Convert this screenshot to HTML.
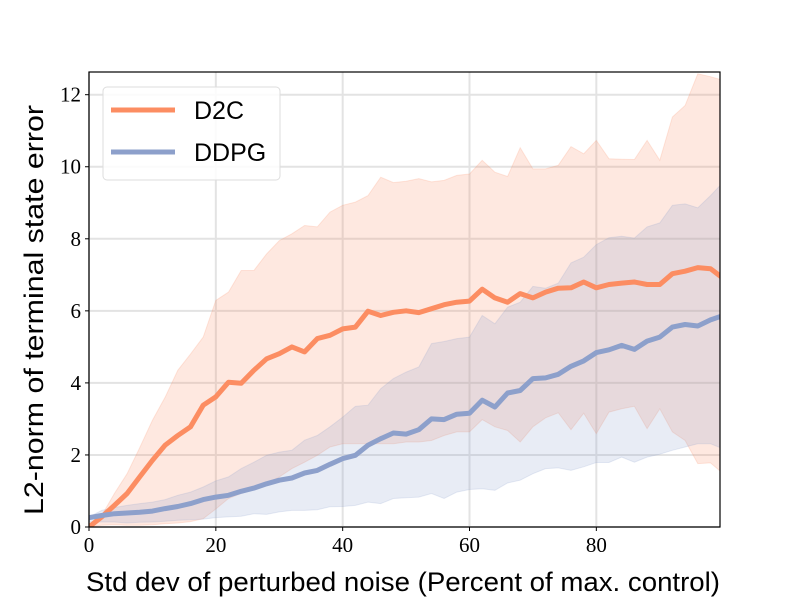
<!DOCTYPE html>
<html><head><meta charset="utf-8"><style>
body{margin:0;background:#fff}
svg text{font-family:"Liberation Sans","DejaVu Sans",sans-serif}
.tk{font-family:"Liberation Serif",serif;font-size:21px}
</style></head><body>
<svg id="chart" width="800" height="600" viewBox="0 0 800 600" xmlns="http://www.w3.org/2000/svg">
<rect width="800" height="600" fill="#fff"/>
<g id="grid"></g>
<g id="bands"></g>
<g id="lines"></g>
<rect x="89" y="72" width="631" height="455" fill="none" stroke="#000" stroke-width="1.2"/>
<g id="ticks"></g>
<text x="403" y="591" font-size="27" text-anchor="middle" textLength="634" lengthAdjust="spacingAndGlyphs">Std dev of perturbed noise (Percent of max. control)</text>
<text transform="translate(43,310) rotate(-90)" font-size="27" text-anchor="middle" textLength="410" lengthAdjust="spacingAndGlyphs">L2-norm of terminal state error</text>
<g>
<rect x="103" y="87" width="177" height="93" rx="4" fill="#fff" fill-opacity="0.85" stroke="#ddd"/>
<line x1="111" y1="110" x2="175" y2="110" stroke="#fc8d62" stroke-width="5"/>
<text x="194" y="119" font-size="25">D2C</text>
<line x1="111" y1="152" x2="175" y2="152" stroke="#8da0cb" stroke-width="5"/>
<text x="194" y="161" font-size="25">DDPG</text>
</g>
</svg>
<script>
const xTicks=[0,20,40,60,80];
const yTicks=[0,2,4,6,8,10,12];
const d2cMean=[0,0.28,0.6,0.93,1.39,1.85,2.27,2.54,2.78,3.38,3.61,4.02,3.99,4.35,4.67,4.81,5.0,4.86,5.23,5.32,5.5,5.55,5.99,5.87,5.96,6.0,5.95,6.06,6.17,6.24,6.27,6.6,6.36,6.24,6.48,6.36,6.52,6.63,6.64,6.8,6.64,6.73,6.77,6.8,6.73,6.73,7.03,7.1,7.2,7.17,6.9];
const d2cUpper=[0,0.32,0.93,1.48,2.2,2.96,3.6,4.35,4.8,5.27,6.29,6.52,7.12,7.12,7.58,7.95,8.14,8.37,8.33,8.74,8.93,9.02,9.2,9.71,9.56,9.6,9.67,9.58,9.62,9.76,9.8,10.18,9.85,9.73,10.53,9.94,9.94,10.04,10.56,10.36,10.73,10.22,10.21,10.2,10.73,10.18,11.38,11.7,12.58,12.5,12.4];
const d2cLower=[0,0.05,0.06,0.05,0.05,0.06,0.09,0.11,0.15,0.23,0.5,0.79,0.93,1.06,1.2,1.39,1.62,1.8,1.99,2.22,2.31,2.31,2.31,2.31,2.31,2.36,2.36,2.4,2.54,2.64,2.64,2.98,2.78,2.68,2.36,2.78,3.03,3.17,2.7,3.16,2.59,3.19,3.28,3.35,2.73,3.28,2.64,2.4,1.76,1.78,1.48];
const ddpgMean=[0.26,0.32,0.37,0.39,0.41,0.44,0.51,0.57,0.65,0.76,0.83,0.88,0.99,1.08,1.2,1.3,1.36,1.5,1.57,1.74,1.9,1.99,2.27,2.45,2.61,2.58,2.7,3.0,2.98,3.13,3.16,3.52,3.33,3.72,3.79,4.12,4.14,4.24,4.46,4.61,4.84,4.92,5.04,4.93,5.16,5.27,5.55,5.62,5.58,5.75,5.87];
const ddpgUpper=[0.28,0.46,0.54,0.6,0.65,0.69,0.76,0.88,0.97,1.11,1.28,1.39,1.62,1.8,1.99,2.08,2.13,2.41,2.54,2.78,3.05,3.35,3.38,3.84,4.12,4.3,4.44,5.09,5.15,5.23,5.27,5.87,5.64,6.1,6.24,6.68,6.63,6.77,7.33,7.49,7.84,8.03,8.07,8.02,8.33,8.44,8.93,8.97,8.86,9.2,9.57];
const ddpgLower=[0.14,0.14,0.14,0.11,0.13,0.14,0.16,0.19,0.2,0.22,0.26,0.28,0.3,0.37,0.35,0.42,0.46,0.46,0.48,0.56,0.57,0.6,0.69,0.65,0.79,0.81,0.83,0.93,0.79,0.97,1.04,1.06,1.02,1.22,1.3,1.48,1.62,1.64,1.57,1.67,1.79,1.79,1.94,1.8,1.94,2.02,2.13,2.22,2.31,2.31,2.17];
const NS="http://www.w3.org/2000/svg";
const L=89,R=720,T=72,B=527,XMAX=99.5,YMAX=12.63;
const xs=v=>L+v/XMAX*(R-L);
const ys=v=>B-v/YMAX*(B-T);
const xv=i=>i*2;
function mk(tag,attrs,parent){const e=document.createElementNS(NS,tag);for(const k in attrs)e.setAttribute(k,attrs[k]);parent.appendChild(e);return e;}
const grid=document.getElementById('grid'),ticks=document.getElementById('ticks');
xTicks.forEach(t=>{
 const g=mk('line',{x1:xs(t),x2:xs(t),y1:T,y2:B,stroke:'#e3e3e3','stroke-width':2},grid);
 
 
 const k=mk('line',{x1:xs(t),x2:xs(t),y1:B,y2:B+4,stroke:'#000'},ticks);
 
 
 const tx=mk('text',{x:xs(t),y:B+25,'text-anchor':'middle',class:'tk'},ticks);
 tx.textContent=t;
 
 
});
yTicks.forEach(t=>{
 const g=mk('line',{x1:L,x2:R,y1:ys(t),y2:ys(t),stroke:'#e3e3e3','stroke-width':2},grid);
 
 
 const k=mk('line',{x1:L-4,x2:L,y1:ys(t),y2:ys(t),stroke:'#000'},ticks);
 
 
 const tx=mk('text',{x:L-8,y:ys(t)+7,'text-anchor':'end',class:'tk'},ticks);
 tx.textContent=t;
 
 
});
const clip=mk('clipPath',{id:'pc'},document.getElementById('chart'));
mk('rect',{x:L,y:T,width:R-L,height:B-T},clip);
const bands=document.getElementById('bands'),lines=document.getElementById('lines');
bands.setAttribute('clip-path','url(#pc)');lines.setAttribute('clip-path','url(#pc)');
function band(up,lo,col,name){
 let d=up.map((v,i)=>(i?'L':'M')+xs(xv(i)).toFixed(1)+','+ys(v).toFixed(1)).join('');
 for(let i=lo.length-1;i>=0;i--)d+='L'+xs(xv(i)).toFixed(1)+','+ys(lo[i]).toFixed(1);
 const p=mk('path',{d:d+'Z',fill:col,'fill-opacity':0.2,stroke:col,'stroke-opacity':0.2},bands);
 
 
}
function line(m,col,name){
 const d=m.map((v,i)=>(i?'L':'M')+xs(xv(i)).toFixed(1)+','+ys(v).toFixed(1)).join('');
 const p=mk('path',{d:d,fill:'none',stroke:col,'stroke-width':5,'stroke-linejoin':'round'},lines);
 
 
}
band(d2cUpper,d2cLower,'#fc8d62','d2c-band');
band(ddpgUpper,ddpgLower,'#8da0cb','ddpg-band');
line(d2cMean,'#fc8d62','d2c-line');
line(ddpgMean,'#8da0cb','ddpg-line');
</script>
</body></html>
